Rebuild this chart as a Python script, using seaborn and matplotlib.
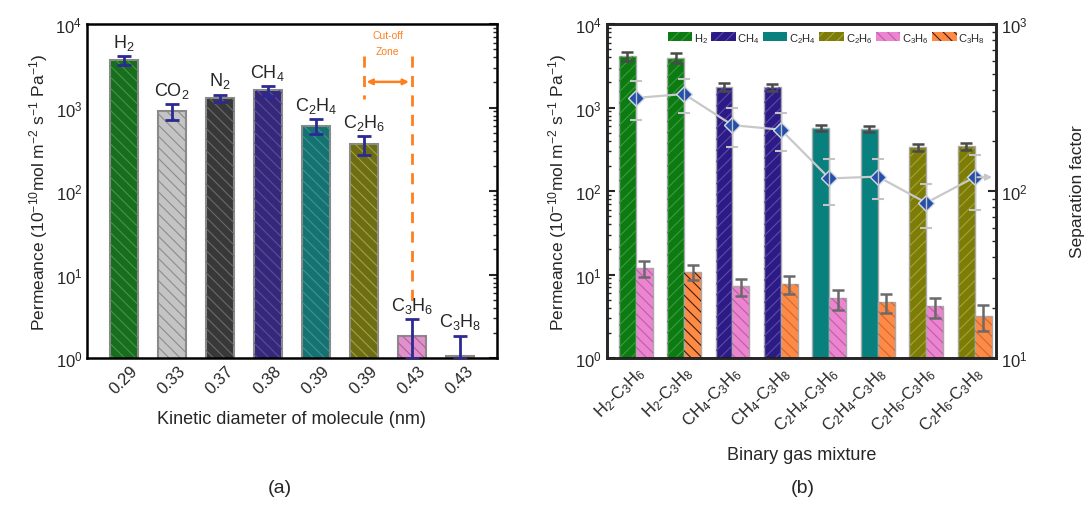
import numpy as np
import pandas as pd
import seaborn as sns
import matplotlib.pyplot as plt
from matplotlib.patches import Rectangle, Patch
from matplotlib.ticker import LogLocator, NullFormatter

# ---- panel (a) data ----
gases_a = ["H$_2$", "CO$_2$", "N$_2$", "CH$_4$", "C$_2$H$_4$", "C$_2$H$_6$", "C$_3$H$_6$", "C$_3$H$_8$"]
diam_a = ["0.29", "0.33", "0.37", "0.38", "0.39", "0.39", "0.43", "0.43"]
perm_a = [3700, 910, 1300, 1600, 600, 365, 1.85, 1.06]
err_a = [480, 200, 130, 220, 120, 95, 1.1, 0.8]

# ---- panel (b) data ----
mixtures_b = ["H$_2$-C$_3$H$_6$", "H$_2$-C$_3$H$_8$", "CH$_4$-C$_3$H$_6$", "CH$_4$-C$_3$H$_8$",
              "C$_2$H$_4$-C$_3$H$_6$", "C$_2$H$_4$-C$_3$H$_8$", "C$_2$H$_6$-C$_3$H$_6$", "C$_2$H$_6$-C$_3$H$_8$"]
light_gas = ["H2", "H2", "CH4", "CH4", "C2H4", "C2H4", "C2H6", "C2H6"]
heavy_gas = ["C3H6", "C3H8", "C3H6", "C3H8", "C3H6", "C3H8", "C3H6", "C3H8"]
perm_light = [4150, 3950, 1770, 1750, 570, 560, 335, 345]
err_light = [500, 500, 200, 170, 50, 45, 35, 35]
perm_heavy = [11.9, 10.8, 7.2, 7.7, 5.2, 4.7, 4.15, 3.2]
err_heavy = [2.6, 2.2, 1.7, 1.8, 1.4, 1.2, 1.1, 1.1]
sep_factor = [361, 381, 248, 233, 119, 122, 85, 121]
sep_err = [95, 88, 65, 60, 37, 33, 25, 44]

legend_names = ["H2", "CH4", "C2H4", "C2H6", "C3H6", "C3H8"]
legend_labels = ["H$_2$", "CH$_4$", "C$_2$H$_4$", "C$_2$H$_6$", "C$_3$H$_6$", "C$_3$H$_8$"]

# styles
colors_a = ["#0b7b12", "#c4c4c4", "#383838", "#2c1b86", "#08807e", "#7c7c06", "#ec84d0", "#ff8a45"]
hatchcol_a = ["#3f9a3f", "#8c8c8c", "#6a6a6a", "#5a4ca6", "#2f9a98", "#a3a33a", "#b85aa0", "#cc6a30"]
gas_color = {"H2": "#0b7b12", "CH4": "#2c1b86", "C2H4": "#08807e", "C2H6": "#7c7c06",
             "C3H6": "#ec84d0", "C3H8": "#ff8a45"}
gas_hatch = {"H2": "///", "CH4": "///", "C2H4": "", "C2H6": "///", "C3H6": "\\\\\\", "C3H8": "\\\\\\"}
gas_hatchcol = {"H2": "#3d9a40", "CH4": "#5a4ca6", "C2H4": "#08807e", "C2H6": "#a3a33a",
                "C3H6": "#b860a8", "C3H8": "#c86a38"}

sns.set_style("white")
plt.rcParams["font.family"] = ["Liberation Sans", "DejaVu Sans"]
plt.rcParams["mathtext.fontset"] = "custom"
plt.rcParams["mathtext.rm"] = "Liberation Sans"
plt.rcParams["mathtext.it"] = "Liberation Sans"
plt.rcParams["mathtext.bf"] = "Liberation Sans:bold"
plt.rcParams["hatch.linewidth"] = 0.8


def overlay_hatch(ax, patch, hatch, color):
    if not hatch:
        return
    r = Rectangle(patch.get_xy(), patch.get_width(), patch.get_height(), fill=False,
                  hatch=hatch, edgecolor=color, lw=0, zorder=patch.get_zorder() + 0.1)
    ax.add_patch(r)


def style_log_axis(ax):
    ax.yaxis.set_major_locator(LogLocator(base=10))
    ax.yaxis.set_minor_locator(LogLocator(base=10, subs=np.arange(2, 10)))
    ax.yaxis.set_minor_formatter(NullFormatter())
    ax.tick_params(axis="y", which="major", direction="in", length=6, width=1.5, labelsize=12)
    ax.tick_params(axis="y", which="minor", direction="in", length=3, width=1)
    for s in ax.spines.values():
        s.set_linewidth(1.8)
        s.set_color("black")


fig = plt.figure(figsize=(10.89, 5.06), dpi=100)
ax_a = fig.add_axes([0.080, 0.2905, 0.376, 0.660])
ax_b = fig.add_axes([0.557, 0.2905, 0.358, 0.660])

# ---------- panel (a) ----------
df_a = pd.DataFrame({"diam": range(len(diam_a)), "perm": perm_a})
sns.barplot(data=df_a, x="diam", y="perm", hue="diam", palette=colors_a, legend=False,
            width=0.58, edgecolor="#8a8a8a", linewidth=1.5, ax=ax_a, errorbar=None)
ax_a.set_yscale("log")
for p, hc in zip(list(ax_a.patches)[:len(perm_a)], hatchcol_a):
    overlay_hatch(ax_a, p, "\\\\\\", hc)
ax_a.errorbar(range(len(perm_a)), perm_a, yerr=[np.minimum(err_a, np.array(perm_a) - 1.0001), err_a],
              fmt="none", ecolor="#2b2a93", elinewidth=2, capsize=5, capthick=2, zorder=5)
for i, (g, v, e) in enumerate(zip(gases_a, perm_a, err_a)):
    ax_a.text(i, (v + e) * 1.12, g, ha="center", va="bottom", fontsize=13)
ax_a.set_ylim(1, 1e4)
ax_a.set_xlim(-0.77, 7.77)
ax_a.set_xticks(range(len(diam_a)))
ax_a.set_xticklabels(diam_a, rotation=45, fontsize=12)
ax_a.tick_params(axis="x", direction="in", length=5, width=1.5)
style_log_axis(ax_a)
ax_a.tick_params(axis="y", which="both", right=True)
ax_a.set_xlabel("Kinetic diameter of molecule (nm)", fontsize=13, labelpad=10)
ax_a.set_ylabel("Permeance (10$^{-10}$mol m$^{-2}$ s$^{-1}$ Pa$^{-1}$)", fontsize=12.5)

# cut-off zone
oc = "#ff7f1e"
ax_a.plot([5, 5], [4100, 1260], ls=(0, (4, 3)), color=oc, lw=2)
ax_a.plot([6, 6], [4100, 4.4], ls=(0, (4, 3)), color=oc, lw=2)
ax_a.annotate("", xy=(6, 2030), xytext=(5, 2030),
              arrowprops=dict(arrowstyle="<|-|>", color=oc, lw=1.8, mutation_scale=8))
ax_a.text(5.5, 7400, "Cut-off", color=oc, fontsize=7.5, ha="center", va="center")
ax_a.text(5.5, 4700, "Zone", color=oc, fontsize=7.5, ha="center", va="center")

# ---------- panel (b) ----------
n = len(mixtures_b)
df_b = pd.DataFrame({
    "mix": list(range(n)) * 2,
    "role": ["light"] * n + ["heavy"] * n,
    "perm": perm_light + perm_heavy,
})
sns.barplot(data=df_b, x="mix", y="perm", hue="role", dodge=True, width=0.7,
            edgecolor="#a8a8a8", linewidth=1, ax=ax_b, legend=False, errorbar=None)
ax_b.set_yscale("log")
bars = list(ax_b.patches)[:2 * n]
light_bars, heavy_bars = bars[:n], bars[n:]
for p, g in zip(light_bars, light_gas):
    p.set_facecolor(gas_color[g])
    overlay_hatch(ax_b, p, gas_hatch[g], gas_hatchcol[g])
for i, (p, g) in enumerate(zip(heavy_bars, heavy_gas)):
    p.set_facecolor(gas_color[g])
    hc = "#3a2010" if i == 1 else gas_hatchcol[g]
    overlay_hatch(ax_b, p, gas_hatch[g], hc)
xl = [p.get_x() + p.get_width() / 2 for p in light_bars]
xh = [p.get_x() + p.get_width() / 2 for p in heavy_bars]
ax_b.errorbar(xl, perm_light, yerr=err_light, fmt="none", ecolor="#4a4a4a",
              elinewidth=1.8, capsize=4, capthick=1.8, zorder=5)
ax_b.errorbar(xh, perm_heavy, yerr=err_heavy, fmt="none", ecolor="#6a6a6a",
              elinewidth=1.8, capsize=4, capthick=1.8, zorder=5)
ax_b.set_ylim(1, 1e4)
ax_b.set_xlim(-0.6, 7.45)
ax_b.set_xticks(range(n))
ax_b.set_xticklabels(mixtures_b, rotation=45, ha="right", rotation_mode="anchor", fontsize=12)
ax_b.tick_params(axis="x", direction="in", length=5, width=1.5)
style_log_axis(ax_b)
ax_b.set_xlabel("Binary gas mixture", fontsize=13, labelpad=8)
ax_b.set_ylabel("Permeance (10$^{-10}$mol m$^{-2}$ s$^{-1}$ Pa$^{-1}$)", fontsize=12.5)

handles = []
for g in legend_names:
    hc = "#3a2010" if g == "C3H8" else gas_hatchcol[g]
    handles.append(Patch(facecolor=gas_color[g], edgecolor=hc, hatch=gas_hatch[g], lw=0))
ax_b.legend(handles, legend_labels, loc="upper left", bbox_to_anchor=(0.14, 1.0), ncol=6,
            frameon=False, fontsize=8, handlelength=2.2, handleheight=0.9,
            columnspacing=0.3, handletextpad=0.15, borderaxespad=0.2)

# separation factor on right axis
ax_r = ax_b.twinx()
ax_r.set_yscale("log")
ax_r.errorbar(range(n), sep_factor, yerr=sep_err, fmt="none", ecolor="#c4c4c4",
              elinewidth=1, capsize=4, capthick=1.5, zorder=3)
sns.lineplot(x=np.arange(n), y=sep_factor, ax=ax_r, color="#c8c8c8", lw=1.6,
             marker="D", markersize=8, markerfacecolor="#2450a8", markeredgecolor="#d8d8e8",
             markeredgewidth=1)
ax_r.annotate("", xy=(7.42, sep_factor[-1]), xytext=(7.0, sep_factor[-1]),
              arrowprops=dict(arrowstyle="-|>", color="#c8c8c8", lw=1.5, mutation_scale=9))
ax_r.set_ylim(10, 1000)
ax_r.set_xlim(-0.6, 7.45)
ax_r.yaxis.set_major_locator(LogLocator(base=10))
ax_r.yaxis.set_minor_locator(LogLocator(base=10, subs=np.arange(2, 10)))
ax_r.yaxis.set_minor_formatter(NullFormatter())
ax_r.tick_params(axis="y", which="major", direction="in", length=6, width=1.5, labelsize=12)
ax_r.tick_params(axis="y", which="minor", direction="in", length=3, width=1)
ax_r.set_ylabel("Separation factor", fontsize=12.5, labelpad=30)
for s in ax_r.spines.values():
    s.set_linewidth(1.8)

fig.text(0.257, 0.025, "(a)", fontsize=14, ha="center")
fig.text(0.737, 0.025, "(b)", fontsize=14, ha="center")

plt.savefig("out.png", dpi=100)
print("Saved out.png")
